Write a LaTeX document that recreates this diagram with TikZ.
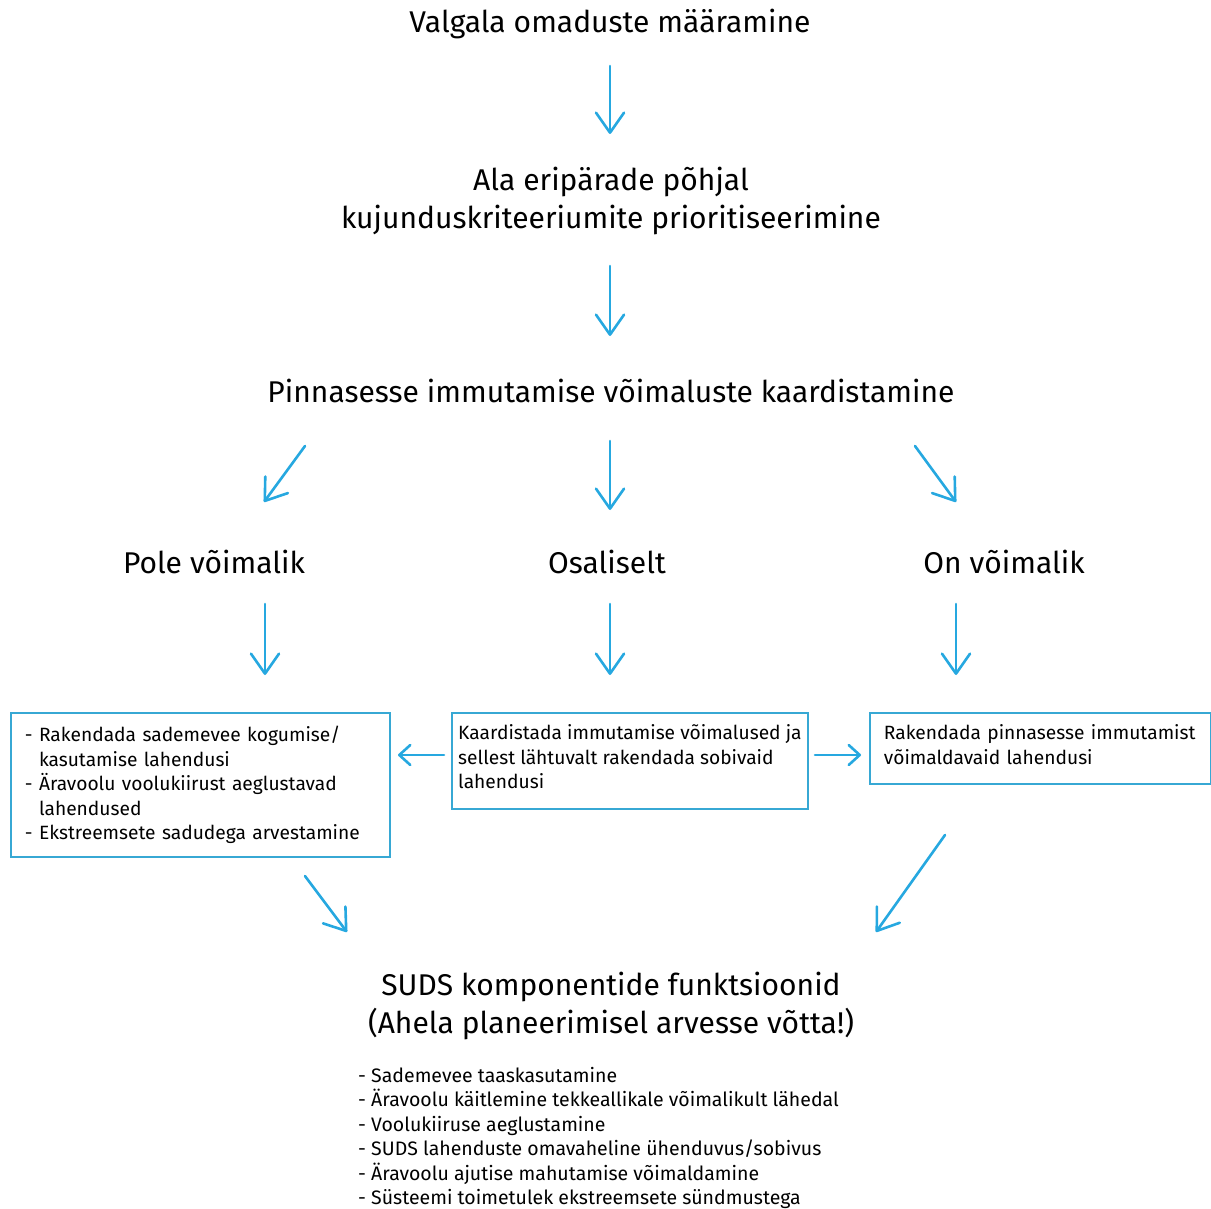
\documentclass[tikz,border=0pt]{standalone}
\usepackage{fontspec}
\setmainfont{Fira Sans}
\usetikzlibrary{arrows.meta}
\definecolor{arr}{RGB}{38,168,224}
\definecolor{boxc}{RGB}{55,168,212}
\tikzset{
  conn/.style={draw=arr, line width=2.6pt, line cap=round,
    -{Straight Barb[length=20pt,width=28pt,line width=2.6pt,line cap=round,line join=round]}},
  sconn/.style={draw=arr, line width=2.6pt, line cap=round,
    -{Straight Barb[length=11pt,width=20pt,line width=2.6pt,line cap=round,line join=round]}},
  head/.style={font=\fontsize{30}{37.5}\selectfont, align=center, inner sep=0pt, text=black},
  boxtxt/.style={font=\fontsize{19.2}{24.6}\selectfont, align=left, text=black},
  bx/.style={draw=boxc, line width=1.8pt, rectangle, anchor=north west, boxtxt},
}
\begin{document}
\begin{tikzpicture}[x=1pt,y=-1pt]
\useasboundingbox (0,0) rectangle (1211,1209);
\fill[white] (0,0) rectangle (1211,1209);

\node[head, anchor=base] (t1) at (610,33) {Valgala omaduste määramine};
\node[head] (t2) at (611,201) {Ala eripärade põhjal\\kujunduskriteeriumite prioritiseerimine};
\node[head, anchor=base] (t3) at (611,402) {Pinnasesse immutamise võimaluste kaardistamine};
\node[head, anchor=base] (p1) at (214,573) {Pole võimalik};
\node[head, anchor=base] (p2) at (607,573) {Osaliselt};
\node[head, anchor=base] (p3) at (1004,573) {On võimalik};

\node[bx, minimum width=379pt, minimum height=144pt, text width=351pt, inner xsep=14pt] (b1) at (10,712)
 {- Rakendada sademevee kogumise/\\\phantom{- }kasutamise lahendusi\\- Äravoolu voolukiirust aeglustavad\\\phantom{- }lahendused\\- Ekstreemsete sadudega arvestamine\rule[-4pt]{0pt}{0pt}};
\node[bx, minimum width=356pt, minimum height=96pt, inner xsep=5pt] (b2) at (451,712)
 {Kaardistada immutamise võimalused ja\\sellest lähtuvalt rakendada sobivaid\\lahendusi\rule[-8pt]{0pt}{0pt}};
\node[bx, minimum width=341pt, minimum height=71pt, text width=313pt, inner xsep=14pt] (b3) at (869,712)
 {Rakendada pinnasesse immutamist\\võimaldavaid lahendusi\rule[-8pt]{0pt}{0pt}};

\node[head] (t4) at (611,1006) {SUDS komponentide funktsioonid\\(Ahela planeerimisel arvesse võtta!)};
\node[boxtxt, anchor=north west, inner sep=0pt, font=\fontsize{19.5}{24.4}\selectfont] (list) at (358,1067)
 {- Sademevee taaskasutamine\\- Äravoolu käitlemine tekkeallikale võimalikult lähedal\\- Voolukiiruse aeglustamine\\- SUDS lahenduste omavaheline ühenduvus/sobivus\\- Äravoolu ajutise mahutamise võimaldamine\\- Süsteemi toimetulek ekstreemsete sündmustega};

% connector end points
\coordinate (a1s) at (610,66);  \coordinate (a1e) at (610,134);
\coordinate (a2s) at (610,266); \coordinate (a2e) at (610,336);
\coordinate (d1s) at (305,446); \coordinate (d1e) at (264,502);
\coordinate (d2s) at (610,441); \coordinate (d2e) at (610,510);
\coordinate (d3s) at (915,446); \coordinate (d3e) at (956,502);
\coordinate (v1s) at (265,604); \coordinate (v1e) at (265,675);
\coordinate (v2s) at (610,604); \coordinate (v2e) at (610,675);
\coordinate (v3s) at (956,604); \coordinate (v3e) at (956,675);
\coordinate (hls) at (444,755); \coordinate (hle) at (398,755);
\coordinate (hrs) at (815,755); \coordinate (hre) at (861,755);
\coordinate (e1s) at (305,876); \coordinate (e1e) at (347,932);
\coordinate (e2s) at (945,835); \coordinate (e2e) at (876,932);

\draw[conn] (a1s) -- (a1e);
\draw[conn] (a2s) -- (a2e);
\draw[conn] (d1s) -- (d1e);
\draw[conn] (d2s) -- (d2e);
\draw[conn] (d3s) -- (d3e);
\draw[conn] (v1s) -- (v1e);
\draw[conn] (v2s) -- (v2e);
\draw[conn] (v3s) -- (v3e);
\draw[sconn] (hls) -- (hle);
\draw[sconn] (hrs) -- (hre);
\draw[conn] (e1s) -- (e1e);
\draw[conn] (e2s) -- (e2e);
\end{tikzpicture}
\end{document}
